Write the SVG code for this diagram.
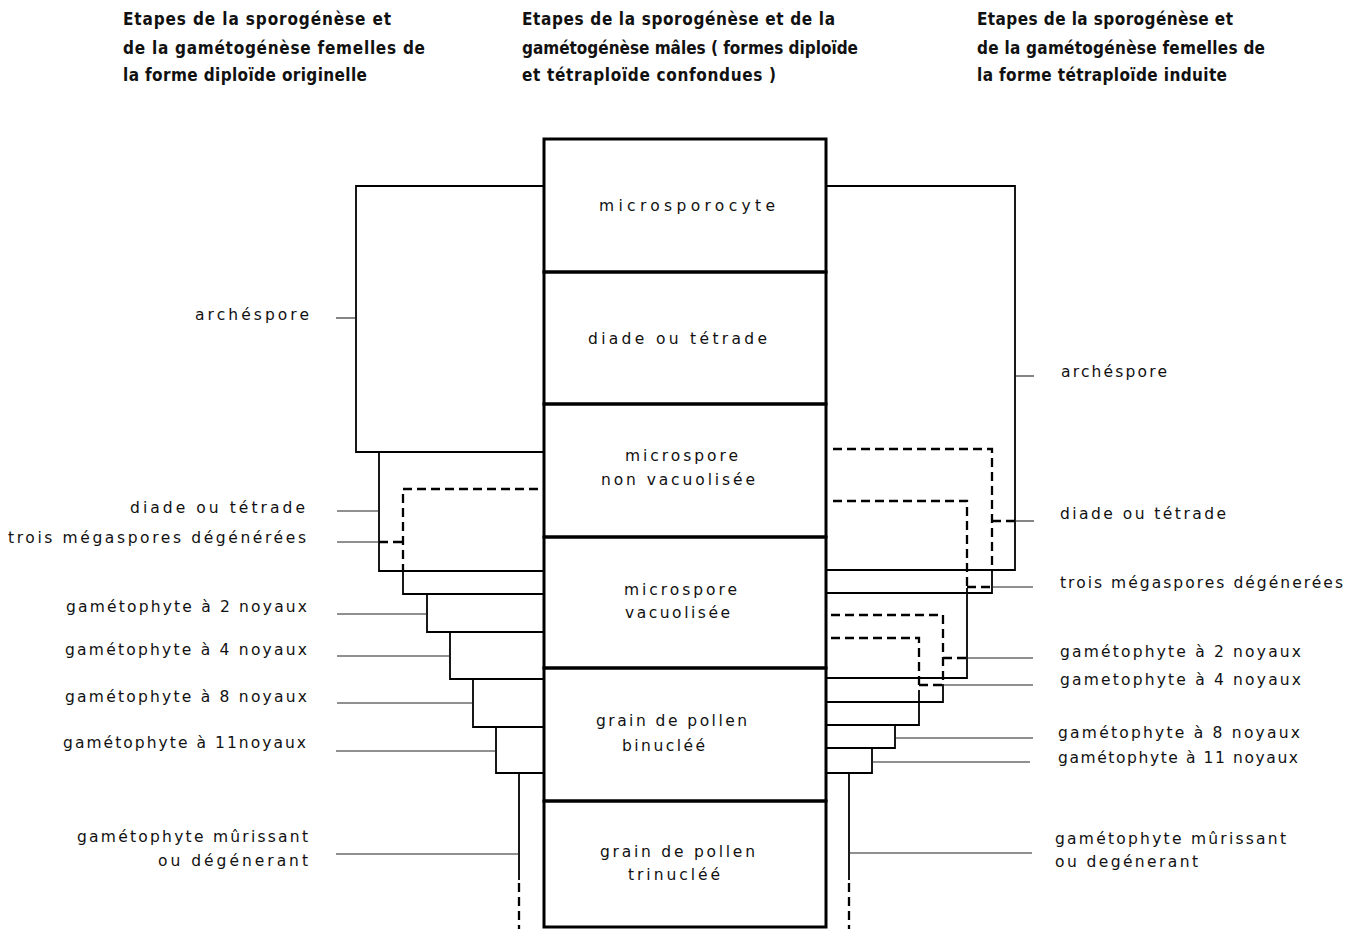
<svg xmlns="http://www.w3.org/2000/svg" width="1359" height="929" viewBox="0 0 1359 929">
<style>
.hd{font-family:"DejaVu Sans Condensed","Liberation Sans",Arial,sans-serif;font-weight:bold;font-size:17px;fill:#111}
.lb{font-family:"DejaVu Sans","Liberation Sans",sans-serif;font-size:15.5px;fill:#111}
.box{fill:none;stroke:#000;stroke-width:3}
.br{fill:none;stroke:#000;stroke-width:1.8}
.tk{fill:none;stroke:#222;stroke-width:1.1}
.ds{fill:none;stroke:#000;stroke-width:2.3;stroke-dasharray:9 5}
</style>
<rect width="1359" height="929" fill="#fff"/>
<g id="headers">
<text class="hd" x="123" y="25" textLength="268">Etapes de la sporogénèse et</text>
<text class="hd" x="123" y="54" textLength="302">de la gamétogénèse femelles de</text>
<text class="hd" x="123" y="81" textLength="244">la forme diploïde originelle</text>
<text class="hd" x="522" y="25" textLength="313">Etapes de la sporogénèse et de la</text>
<text class="hd" x="522" y="54" textLength="336">gamétogénèse mâles ( formes diploïde</text>
<text class="hd" x="522" y="81" textLength="254">et tétraploïde confondues )</text>
<text class="hd" x="977" y="25" textLength="256">Etapes de la sporogénèse et</text>
<text class="hd" x="977" y="54" textLength="288">de la gamétogénèse femelles de</text>
<text class="hd" x="977" y="81" textLength="250">la forme tétraploïde induite</text>
</g>
<g id="stage-microsporocyte"><rect class="box" x="544" y="139" width="282" height="133"/><text class="lb" x="599" y="211" textLength="176">microsporocyte</text></g>
<g id="stage-diade"><rect class="box" x="544" y="272" width="282" height="132"/><text class="lb" x="588" y="344" textLength="179">diade ou tétrade</text></g>
<g id="stage-microspore-nv"><rect class="box" x="544" y="404" width="282" height="133"/><text class="lb" x="625" y="461" textLength="113">microspore</text><text class="lb" x="601" y="485" textLength="154">non vacuolisée</text></g>
<g id="stage-microspore-v"><rect class="box" x="544" y="537" width="282" height="131"/><text class="lb" x="624" y="595" textLength="113">microspore</text><text class="lb" x="625" y="618" textLength="105">vacuolisée</text></g>
<g id="stage-binuclee"><rect class="box" x="544" y="668" width="282" height="133"/><text class="lb" x="596" y="726" textLength="151">grain de pollen</text><text class="lb" x="622" y="751" textLength="83">binucléé</text></g>
<g id="stage-trinuclee"><rect class="box" x="544" y="801" width="282" height="126"/><text class="lb" x="600" y="857" textLength="155">grain de pollen</text><text class="lb" x="628" y="880" textLength="92">trinucléé</text></g>
<g id="left-labels">
<g id="l-archespore"><text class="lb" x="195" y="320" textLength="114">archéspore</text></g>
<g id="l-diade"><text class="lb" x="130" y="513" textLength="175">diade ou tétrade</text></g>
<g id="l-trois"><text class="lb" x="8" y="543" textLength="298">trois mégaspores dégénérées</text></g>
<g id="l-g2"><text class="lb" x="66" y="612" textLength="241">gamétophyte à 2 noyaux</text></g>
<g id="l-g4"><text class="lb" x="65" y="655" textLength="242">gamétophyte à 4 noyaux</text></g>
<g id="l-g8"><text class="lb" x="65" y="702" textLength="242">gamétophyte à 8 noyaux</text></g>
<g id="l-g11"><text class="lb" x="63" y="748" textLength="243">gamétophyte à 11noyaux</text></g>
<g id="l-mur"><text class="lb" x="77" y="842" textLength="231">gamétophyte mûrissant</text><text class="lb" x="158" y="866" textLength="150">ou dégénerant</text></g>
</g>
<g id="right-labels">
<g id="r-archespore"><text class="lb" x="1061" y="377" textLength="106">archéspore</text></g>
<g id="r-diade"><text class="lb" x="1060" y="519" textLength="166">diade ou tétrade</text></g>
<g id="r-trois"><text class="lb" x="1060" y="588" textLength="283">trois mégaspores dégénerées</text></g>
<g id="r-g2"><text class="lb" x="1060" y="657" textLength="241">gamétophyte à 2 noyaux</text></g>
<g id="r-g4"><text class="lb" x="1060" y="685" textLength="241">gametophyte à 4 noyaux</text></g>
<g id="r-g8"><text class="lb" x="1058" y="738" textLength="242">gamétophyte à 8 noyaux</text></g>
<g id="r-g11"><text class="lb" x="1058" y="763" textLength="240">gamétophyte à 11 noyaux</text></g>
<g id="r-mur"><text class="lb" x="1055" y="844" textLength="231">gamétophyte mûrissant</text><text class="lb" x="1055" y="867" textLength="143">ou degénerant</text></g>
</g>
<g id="connectors">
<path class="br" d="M544,186 H356 V452 H544"/>
<path class="tk" d="M336,318 H356"/>
<path class="br" d="M379,452 V571 H544"/>
<path class="tk" d="M337,511 H379"/>
<path class="ds" d="M538,489 H403 V571"/>
<path class="ds" d="M379,542 H403"/>
<path class="br" d="M403,571 V594 H544"/>
<path class="tk" d="M337,542 H379"/>
<path class="br" d="M427,594 V632 H544"/>
<path class="tk" d="M337,614 H427"/>
<path class="br" d="M450,632 V679 H544"/>
<path class="tk" d="M337,656 H450"/>
<path class="br" d="M473,679 V727 H544"/>
<path class="tk" d="M337,703 H473"/>
<path class="br" d="M496,727 V773 H544"/>
<path class="tk" d="M336,751 H496"/>
<path class="br" d="M519,773 V880"/>
<path class="ds" d="M519,883 V929"/>
<path class="tk" d="M336,854 H519"/>

<path class="br" d="M826,186 H1015 V570 H826"/>
<path class="tk" d="M1015,376 H1034"/>
<path class="ds" d="M833,449 H992 V566"/>
<path class="br" d="M992,570 V593 H826"/>
<path class="ds" d="M992,521 H1015"/>
<path class="tk" d="M1015,521 H1034"/>
<path class="ds" d="M833,501 H967 V586"/>
<path class="br" d="M967,588 V678 H826"/>
<path class="ds" d="M967,587 H992"/>
<path class="tk" d="M992,587 H1033"/>
<path class="ds" d="M831,615 H943 V682"/>
<path class="br" d="M943,684 V702 H826"/>
<path class="ds" d="M943,658 H967"/>
<path class="tk" d="M967,658 H1033"/>
<path class="ds" d="M831,638 H919 V688"/>
<path class="br" d="M919,690 V725 H826"/>
<path class="ds" d="M919,685 H943"/>
<path class="tk" d="M943,685 H1033"/>
<path class="br" d="M895,725 V748 H826"/>
<path class="tk" d="M895,738 H1033"/>
<path class="br" d="M872,748 V773 H826"/>
<path class="tk" d="M872,762 H1030"/>
<path class="br" d="M849,773 V880"/>
<path class="ds" d="M849,883 V929"/>
<path class="tk" d="M849,853 H1032"/>
</g>
</svg>
